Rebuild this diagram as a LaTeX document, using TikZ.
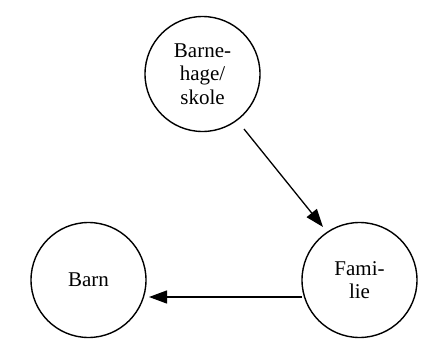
\documentclass[tikz,border=0pt]{standalone}
\usepackage{fontspec}
\setmainfont{Liberation Serif}
\usetikzlibrary{arrows.meta}
\begin{document}
\begin{tikzpicture}[x=1pt,y=-1pt,
  bubble/.style={draw, circle, line width=1.4pt, minimum size=115pt, inner sep=0pt,
    align=center, font=\fontsize{21}{23.5}\selectfont},
  link/.style={line width=1.3pt, -{Triangle[length=18pt,width=13pt]}}]
\useasboundingbox (0,0) rectangle (428,343);
\node[bubble] (skole) at (202.5,74) {Barne-\\hage/\\skole};
\node[bubble] (barn) at (88.5,280) {\raisebox{-8pt}{Barn}};
\node[bubble] (fam) at (359.5,280) {Fami-\\lie};
\coordinate (skoleout) at (244,129);
\coordinate (famin) at (323,227);
\coordinate (famw) at (302,297);
\coordinate (barnin) at (149,297);
\draw[link] (skoleout) -- (famin);
\draw[link] (famw) -- (barnin);
\end{tikzpicture}
\end{document}
